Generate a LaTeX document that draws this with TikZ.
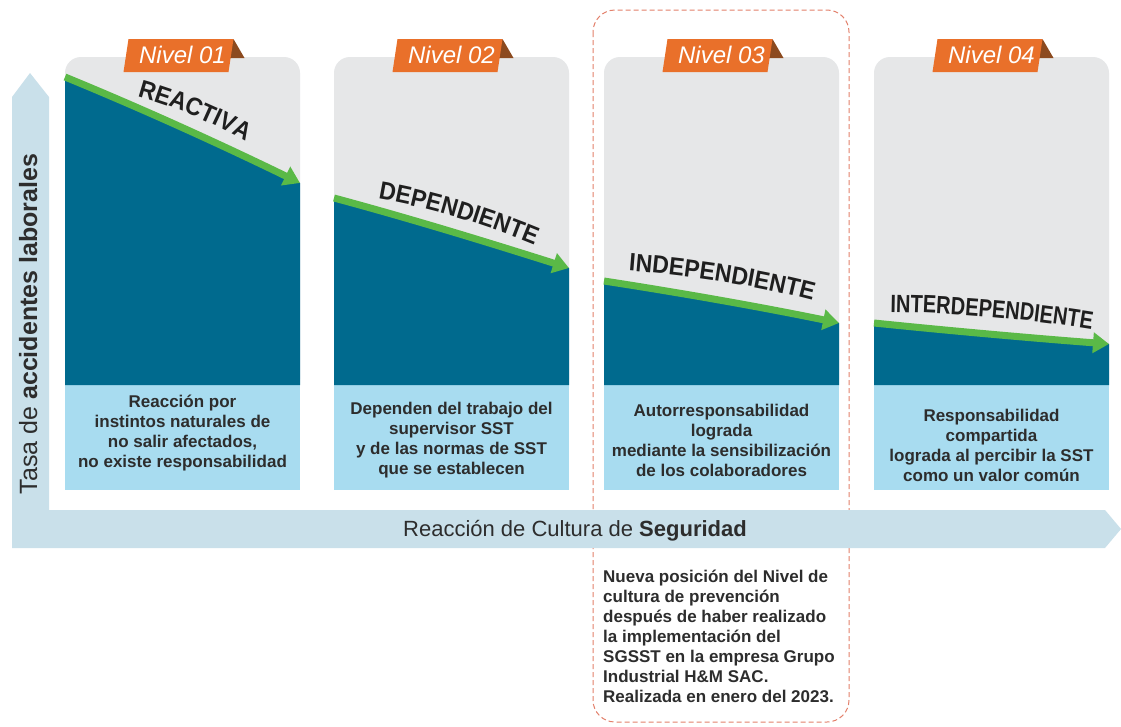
\documentclass[tikz,border=0pt]{standalone}
\usepackage{fontspec}
\setmainfont{Liberation Sans}
\newfontfamily\titlefont[FakeStretch=0.92]{Liberation Sans}
\newfontfamily\titlenarrowfont[FakeStretch=0.8]{Liberation Sans}
\newcommand{\titlesize}{\titlefont\bfseries\fontsize{25}{25}\selectfont}
\newcommand{\titlenarrow}{\titlenarrowfont\bfseries\fontsize{25}{25}\selectfont}
\usetikzlibrary{arrows.meta, decorations.text}

\definecolor{axisblue}{HTML}{C9E0EA}
\definecolor{panelgray}{HTML}{E6E7E8}
\definecolor{deepblue}{HTML}{006A8E}
\definecolor{paleblue}{HTML}{A8DCF0}
\definecolor{trendgreen}{HTML}{5AB947}
\definecolor{tagorange}{HTML}{E9702A}
\definecolor{tagfold}{HTML}{8C4A1F}
\definecolor{focusred}{HTML}{E3806B}
\definecolor{inkgray}{HTML}{2D2D2D}

\begin{document}
\begin{tikzpicture}[
				x=1pt, y=-1pt,
				trend/.style={line width=7pt, trendgreen, -{Triangle[length=16pt, width=20pt]}},
				desc/.style={align=center, inner sep=0pt, text=inkgray, font=\bfseries\fontsize{17}{20}\selectfont},
				tagtext/.style={anchor=base, inner sep=0pt, text=white, font=\itshape\fontsize{24}{24}\selectfont},
				curvetext/.style={decorate, decoration={text along path, text align=center, text color=black!88}}
			]
				\useasboundingbox (0,0) rectangle (1121,726);
				\fill[white] (0,0) rectangle (1121,726);

				% focus frame round level 3
				\draw[focusred, line width=1pt, dash pattern=on 5pt off 3pt, rounded corners=22pt] (593,10) rectangle (849,722);

				% axes
				\fill[axisblue] (30,73) -- (49,97) -- (49,510) -- (1105,510) -- (1121,529) -- (1105,548) -- (12,548) -- (12,97) -- cycle;
				\node[rotate=90, anchor=base, inner sep=0pt, text=inkgray, font=\fontsize{25}{25}\selectfont] (ylab) at (37,324) {Tasa de \textbf{accidentes laborales}};
				\node[anchor=base, inner sep=0pt, text=inkgray, font=\fontsize{22}{22}\selectfont] (xlab) at (575,536) {Reacción de Cultura de \textbf{Seguridad}};

				% panels
				\foreach \px in {65,334,604,874} {
					\fill[panelgray, rounded corners=16pt] (\px,57) rectangle (\px+235,395);
					\fill[paleblue] (\px,385) rectangle (\px+235,490);
				}

				\coordinate (r1a) at (65,77);   \coordinate (r1b) at (300,183);
				\coordinate (r2a) at (334,198); \coordinate (r2b) at (569,268);
				\coordinate (r3a) at (604,281); \coordinate (r3b) at (839,323);
				\coordinate (r4a) at (874,323); \coordinate (r4b) at (1109,344);

				\fill[deepblue] (r1a) .. controls (143,109) and (222,145) .. (r1b) -- (300,385) -- (65,385) -- cycle;
				\fill[deepblue] (r2a) .. controls (412,219) and (490,243) .. (r2b) -- (569,385) -- (334,385) -- cycle;
				\fill[deepblue] (r3a) .. controls (682,293) and (761,307) .. (r3b) -- (839,385) -- (604,385) -- cycle;
				\fill[deepblue] (r4a) .. controls (952,331) and (1031,338) .. (r4b) -- (1109,385) -- (874,385) -- cycle;

				\draw[trend] (r1a) .. controls (143,109) and (222,145) .. (r1b);
				\draw[trend] (r2a) .. controls (412,219) and (490,243) .. (r2b);
				\draw[trend] (r3a) .. controls (682,293) and (761,307) .. (r3b);
				\draw[trend] (r4a) .. controls (952,331) and (1031,338) .. (r4b);

				% level names along the curves
				\path[curvetext, decoration={text={|\titlesize|REACTIVA}}] (128,94) .. controls (172,105) and (214,123) .. (254,146);
				\path[curvetext, decoration={text={|\titlesize|DEPENDIENTE}}] (366,197) .. controls (427,206) and (490,226) .. (546,250);
				\path[curvetext, decoration={text={|\titlesize|INDEPENDIENTE}}] (616,270) .. controls (686,275) and (758,285) .. (825,304);
				\path[curvetext, decoration={text={|\titlenarrow|INTERDEPENDIENTE}}] (888,312) .. controls (956,313) and (1026,319) .. (1094,330);

				\node[desc] (desc1) at (182.5,433) {Reacción por\\instintos naturales de\\no salir afectados,\\no existe responsabilidad};
				\node[desc] (desc2) at (451.5,440) {Dependen del trabajo del\\supervisor SST\\y de las normas de SST\\que se establecen};
				\node[desc] (desc3) at (721.5,440) {Autorresponsabilidad\\lograda\\mediante la sensibilización\\de los colaboradores};
				\node[desc] (desc4) at (991.5,445) {Responsabilidad\\compartida\\lograda al percibir la SST\\como un valor común};

				% level tags
				\foreach \px/\num in {65/01,334/02,604/03,874/04} {
					\pgfmathsetmacro{\tx}{\px+113.5}
					\fill[tagfold] (\tx+55,39) -- (\tx+66,58) -- (\tx+50,58) -- cycle;
					\fill[tagorange] (\tx-55,72) -- (\tx+50,72) -- (\tx+55,39) -- (\tx-50,39) -- cycle;
					\node[tagtext] (tag\num) at (\tx+4,63) {Nivel \num};
				}

				\node[anchor=north west, align=left, inner sep=0pt, text=inkgray, font=\bfseries\fontsize{17}{20}\selectfont] (note) at (603,570)
					{Nueva posición del Nivel de\\cultura de prevención\\después de haber realizado\\la implementación del\\SGSST en la empresa Grupo\\Industrial H\&M SAC.\\Realizada en enero del 2023.};
			\end{tikzpicture}
\end{document}
